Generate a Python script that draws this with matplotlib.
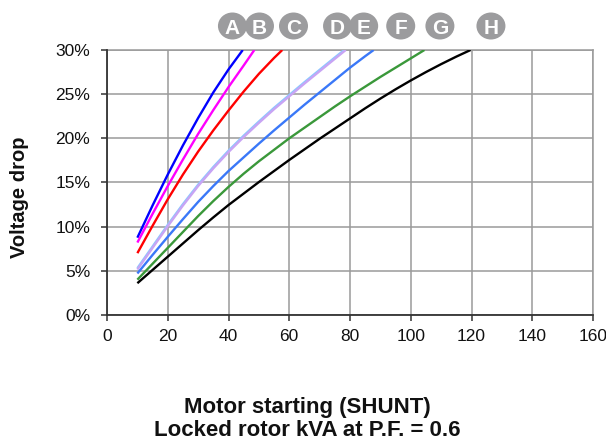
import matplotlib
matplotlib.use("Agg")
import matplotlib.pyplot as plt
from matplotlib.patches import Ellipse
from matplotlib.ticker import FuncFormatter

plt.rcParams['font.family'] = ['Liberation Sans', 'DejaVu Sans']

# ---- data ----
labels = ["A", "B", "C", "D", "E", "F", "G", "H"]
label_x = [41.3, 50.2, 61.4, 75.9, 84.5, 96.7, 109.6, 126.4]

a_x = [10, 15, 20, 25, 30, 35, 40, 44.7]
a_y = [8.75, 12.4, 15.9, 19.2, 22.3, 25.2, 27.8, 30.0]

b_x = [10, 15, 20, 25, 30, 35, 40, 45, 48.5]
b_y = [8.2, 11.45, 14.6, 17.6, 20.5, 23.2, 25.8, 28.25, 30.0]

c_x = [10, 15, 20, 25, 30, 35, 40, 45, 50, 55, 57.7]
c_y = [7.0, 10.1, 13.1, 15.9, 18.5, 20.9, 23.15, 25.3, 27.3, 29.1, 30.0]

d_x = [10, 15, 20, 25, 30, 35, 40, 45, 50, 55, 60, 65, 70, 75, 78.1]
d_y = [5.3, 7.75, 10.2, 12.55, 14.75, 16.75, 18.6, 20.3, 21.9, 23.45,
       24.9, 26.35, 27.75, 29.15, 30.0]

e_x = [10, 15, 20, 25, 30, 35, 40, 45, 50, 55, 60, 65, 70, 75, 78.6]
e_y = [5.15, 7.6, 10.05, 12.4, 14.6, 16.6, 18.45, 20.15, 21.75, 23.3,
       24.75, 26.2, 27.6, 29.0, 30.0]

f_x = [10, 15, 20, 25, 30, 35, 40, 45, 50, 55, 60, 65, 70, 75, 80, 85, 87.8]
f_y = [4.7, 6.8, 8.85, 10.85, 12.8, 14.6, 16.3, 17.85, 19.4, 20.9,
       22.35, 23.8, 25.2, 26.6, 28.0, 29.3, 30.0]

g_x = [10, 15, 20, 25, 30, 35, 40, 45, 50, 55, 60, 65, 70, 75, 80, 85, 90,
       95, 100, 104.5]
g_y = [4.0, 5.8, 7.6, 9.4, 11.2, 12.9, 14.5, 16.0, 17.4, 18.7, 20.0, 21.2,
       22.4, 23.6, 24.75, 25.85, 26.95, 28.0, 29.05, 30.0]

h_x = [10, 15, 20, 25, 30, 35, 40, 45, 50, 55, 60, 65, 70, 75, 80, 85, 90,
       95, 100, 105, 110, 115, 119.7]
h_y = [3.6, 5.1, 6.6, 8.1, 9.6, 11.05, 12.45, 13.75, 15.05, 16.3, 17.55,
       18.75, 19.95, 21.1, 22.25, 23.4, 24.5, 25.55, 26.55, 27.5, 28.4,
       29.25, 30.0]

series_x = [a_x, b_x, c_x, d_x, e_x, f_x, g_x, h_x]
series_y = [a_y, b_y, c_y, d_y, e_y, f_y, g_y, h_y]
colors = ["#0000ff", "#ff00ff", "#ff0000", "#8cc8ff", "#c8a4f4",
          "#3a78f8", "#3a983a", "#000000"]

x_ticks = [0, 20, 40, 60, 80, 100, 120, 140, 160]
y_ticks = [0, 5, 10, 15, 20, 25, 30]

# ---- figure ----
fig = plt.figure(figsize=(6.06, 4.40), dpi=100)
ax = fig.add_axes([107 / 606, 125 / 440, 486 / 606, 265 / 440])

for xs, ys, col in zip(series_x, series_y, colors):
    ax.plot(xs, ys, color=col, lw=1.7, solid_capstyle='butt',
            solid_joinstyle='round', zorder=3)

ax.set_xlim(0, 160)
ax.set_ylim(0, 30)
ax.set_xticks(x_ticks)
ax.set_yticks(y_ticks)
ax.yaxis.set_major_formatter(FuncFormatter(lambda v, p: f"{int(v)}%"))
ax.grid(True, color="#9a9a9a", lw=1.1, zorder=1)
ax.set_axisbelow(True)

for s in ["top", "right"]:
    ax.spines[s].set_color("#9a9a9a")
    ax.spines[s].set_linewidth(1.1)
for s in ["left", "bottom"]:
    ax.spines[s].set_color("#333333")
    ax.spines[s].set_linewidth(1.3)
ax.spines["left"].set_zorder(4)
ax.spines["bottom"].set_zorder(4)

ax.tick_params(axis='both', direction='out', length=4, width=1.1,
               color="#333333", labelsize=12.5, labelcolor="#111111")
ax.tick_params(axis='y', pad=8)
ax.tick_params(axis='x', pad=6)

fig.text(20 / 606, (440 - 197.5) / 440, "Voltage drop", rotation=90,
         ha='center', va='center', fontsize=14.5, fontweight='bold',
         color="#111111")
fig.text(307 / 606, (440 - 413) / 440, "Motor starting (SHUNT)",
         ha='center', va='baseline', fontsize=16, fontweight='bold',
         color="#111111")
fig.text(307 / 606, (440 - 436) / 440, "Locked rotor kVA at P.F. = 0.6",
         ha='center', va='baseline', fontsize=16, fontweight='bold',
         color="#111111")

# ---- letter badges above the plot ----
fig.canvas.draw()
cy_px = 440 - 26
for lab, lx in zip(labels, label_x):
    cx_px = ax.transData.transform((lx, 0))[0]
    e = Ellipse((cx_px, cy_px), width=29, height=27, facecolor="#9c9c9e",
                edgecolor="none", transform=None, zorder=5)
    fig.add_artist(e)
    fig.text(cx_px / 606, cy_px / 440, lab, ha='center', va='center_baseline',
             fontsize=15, fontweight='bold', color='white', zorder=6)

fig.savefig("out.png", dpi=100)
